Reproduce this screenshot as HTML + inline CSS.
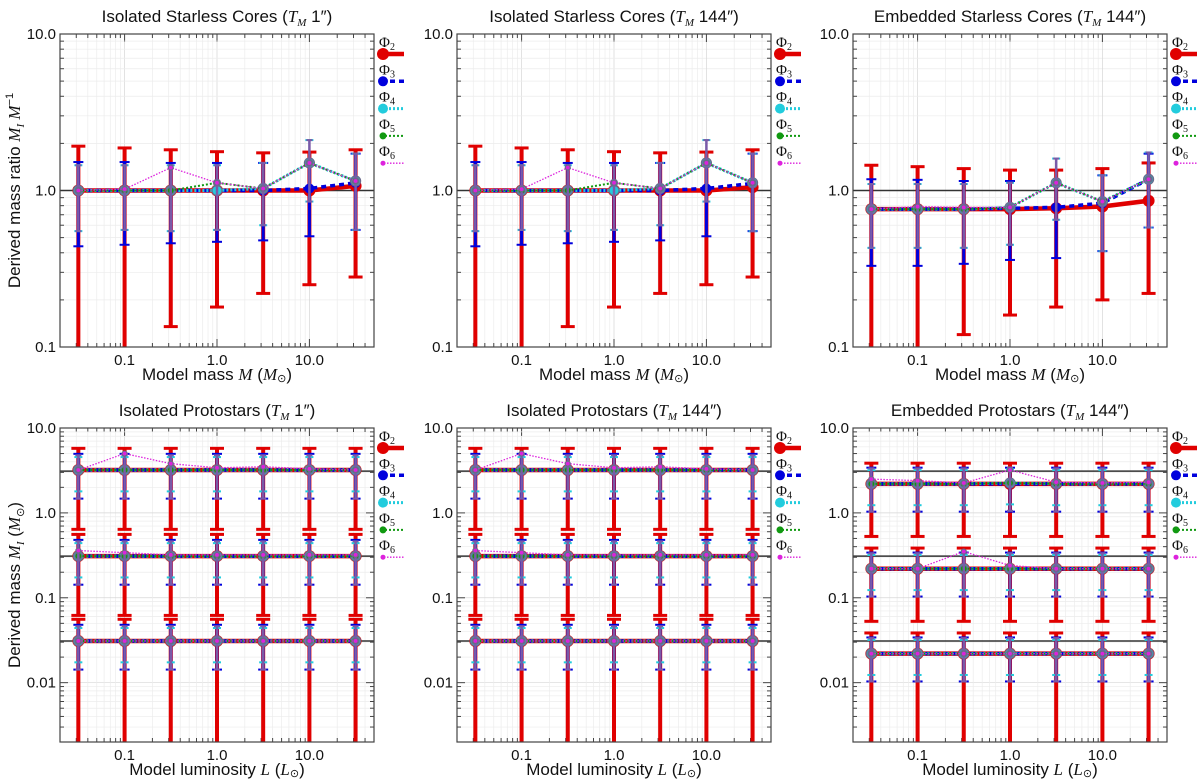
<!DOCTYPE html>
<html><head><meta charset="utf-8"><style>
html,body{margin:0;padding:0;background:#fff;overflow:hidden}
svg{display:block;font-family:"Liberation Sans",sans-serif}
</style></head><body>
<svg id="fig" width="1200" height="784" viewBox="0 0 1200 784" xmlns="http://www.w3.org/2000/svg"></svg>
<script>
// ---------- data ----------
const xVals = [0.0316, 0.1, 0.316, 1, 3.16, 10, 31.6];
const xTickVals = [0.1, 1, 10];
const xTickLabels = ["0.1", "1.0", "10.0"];
const topYTicks = [0.1, 1, 10];
const topYTickLabels = ["0.1", "1.0", "10.0"];
const botYTicks = [0.01, 0.1, 1, 10];
const botYTickLabels = ["0.01", "0.1", "1.0", "10.0"];
const seriesNames = ["2", "3", "4", "5", "6"];

// top-left: isolated starless cores TM 1"
const tlRed = [1, 1, 1, 1, 1, 1.0, 1.07];
const tlBlue = [1, 1, 1, 1, 1, 1.03, 1.12];
const tlCyan = [1, 1, 1, 1, 1.03, 1.5, 1.15];
const tlGreen = [1, 1, 1, 1.12, 1.03, 1.5, 1.15];
const tlMag = [1, 1.02, 1.4, 1.12, 1.03, 1.5, 1.15];
const tlRedHi = [1.92, 1.87, 1.82, 1.77, 1.74, 1.76, 1.82];
const tlRedLo = [0.05, 0.05, 0.135, 0.18, 0.22, 0.25, 0.28];
const tlBlueHi = [1.52, 1.52, 1.5, 1.5, 1.5, 1.5, 1.72];
const tlBlueLo = [0.44, 0.45, 0.46, 0.47, 0.48, 0.51, 0.56];
const tlCyanHi = [1.45, 1.45, 1.45, 1.45, 1.5, 2.1, 1.72];
const tlCyanLo = [0.55, 0.56, 0.55, 0.56, 0.6, 0.85, 0.56];

// top-middle: isolated starless cores TM 144"
const tmRed = [1, 1, 1, 1, 1, 1.0, 1.05];
const tmBlue = [1, 1, 1, 1, 1, 1.03, 1.11];
const tmCyan = [1, 1, 1, 1, 1.03, 1.5, 1.12];
const tmGreen = [1, 1, 1, 1.12, 1.03, 1.5, 1.12];
const tmMag = [1, 1.02, 1.4, 1.12, 1.03, 1.5, 1.12];
const tmRedHi = [1.92, 1.87, 1.82, 1.77, 1.74, 1.76, 1.82];
const tmRedLo = [0.05, 0.05, 0.135, 0.18, 0.22, 0.25, 0.28];
const tmBlueHi = [1.52, 1.52, 1.5, 1.5, 1.5, 1.5, 1.72];
const tmBlueLo = [0.44, 0.45, 0.46, 0.47, 0.48, 0.51, 0.55];
const tmCyanHi = [1.45, 1.45, 1.45, 1.45, 1.5, 2.1, 1.72];
const tmCyanLo = [0.55, 0.56, 0.55, 0.56, 0.6, 0.85, 0.55];

// top-right: embedded starless cores TM 144"
const trRed = [0.76, 0.76, 0.76, 0.76, 0.77, 0.79, 0.86];
const trBlue = [0.76, 0.76, 0.76, 0.77, 0.78, 0.83, 1.18];
const trCyan = [0.76, 0.76, 0.76, 0.78, 1.12, 0.85, 1.18];
const trGreen = [0.76, 0.76, 0.76, 0.78, 1.12, 0.85, 1.18];
const trMag = [0.76, 0.79, 0.78, 0.78, 1.12, 0.85, 1.18];
const trRedHi = [1.45, 1.42, 1.38, 1.35, 1.35, 1.38, 1.5];
const trRedLo = [0.05, 0.05, 0.12, 0.16, 0.18, 0.2, 0.22];
const trBlueHi = [1.18, 1.17, 1.15, 1.15, 1.12, 1.25, 1.72];
const trBlueLo = [0.33, 0.33, 0.34, 0.36, 0.37, 0.41, 0.58];
const trCyanHi = [1.1, 1.1, 1.1, 1.12, 1.6, 1.25, 1.75];
const trCyanLo = [0.43, 0.43, 0.43, 0.45, 0.65, 0.41, 0.58];

// bottom panels: rows are model-mass levels (3, 0.3, 0.03 Msun)
const blRefs = [3.1, 0.31, 0.031];
const blRed = [[3.2,3.2,3.2,3.2,3.2,3.2,3.2],[0.31,0.31,0.31,0.31,0.31,0.31,0.31],[0.031,0.031,0.031,0.031,0.031,0.031,0.031]];
const blCyan = [[3.2,3.2,3.2,3.2,3.2,3.2,3.2],[0.31,0.31,0.31,0.31,0.31,0.31,0.31],[0.031,0.031,0.031,0.031,0.031,0.031,0.031]];
const blMag = [[3.2,5.0,3.8,3.4,3.5,3.3,3.2],[0.36,0.34,0.32,0.32,0.32,0.32,0.32],[0.031,0.031,0.031,0.031,0.031,0.031,0.031]];
const blHiF = [1.8, 1.55, 1.42];
const blLoF = [0.2, 0.46, 0.56];
const blRedLoLast = 0.001;

const bmRefs = [3.1, 0.31, 0.031];
const bmRed = [[3.2,3.2,3.2,3.2,3.2,3.2,3.2],[0.31,0.31,0.31,0.31,0.31,0.31,0.31],[0.031,0.031,0.031,0.031,0.031,0.031,0.031]];
const bmCyan = [[3.2,3.2,3.2,3.2,3.2,3.2,3.2],[0.31,0.31,0.31,0.31,0.31,0.31,0.31],[0.031,0.031,0.031,0.031,0.031,0.031,0.031]];
const bmMag = [[3.2,5.0,3.8,3.4,3.5,3.3,3.2],[0.36,0.34,0.32,0.32,0.32,0.32,0.32],[0.031,0.031,0.031,0.031,0.031,0.031,0.031]];
const bmHiF = [1.8, 1.55, 1.42];
const bmLoF = [0.2, 0.46, 0.56];

const brRefs = [3.1, 0.31, 0.031];
const brRed = [[2.2,2.2,2.2,2.2,2.2,2.2,2.2],[0.22,0.22,0.22,0.22,0.22,0.22,0.22],[0.022,0.022,0.022,0.022,0.022,0.022,0.022]];
const brCyan = [[2.2,2.2,2.2,2.25,2.2,2.2,2.2],[0.22,0.22,0.22,0.22,0.22,0.22,0.22],[0.022,0.022,0.022,0.022,0.022,0.022,0.022]];
const brMag = [[2.5,2.4,2.25,3.2,2.3,2.25,2.3],[0.22,0.22,0.35,0.24,0.22,0.22,0.22],[0.022,0.022,0.022,0.022,0.022,0.022,0.022]];
const brHiF = [1.75, 1.55, 1.45];
const brLoF = [0.24, 0.47, 0.56];

// ---------- drawing ----------
const NS = "http://www.w3.org/2000/svg";
const svg = document.getElementById("fig");
function mk(tag, attrs, parent) {
  const e = document.createElementNS(NS, tag);
  for (const k in attrs) e.setAttribute(k, attrs[k]);
  (parent || svg).appendChild(e);
  return e;
}
const styles = [
  {c: "#e00000", w: 4.5, dash: "", r: 6, ew: 4, cap: 7},
  {c: "#0000dd", w: 3.5, dash: "5,4", r: 5, ew: 3, cap: 5},
  {c: "#22ccdd", w: 3, dash: "2,2", r: 5, ew: 2, cap: 4},
  {c: "#119911", w: 2, dash: "2,2", r: 3.5, ew: 2, cap: 3},
  {c: "#dd22dd", w: 1.3, dash: "1.5,1.5", r: 2.5, ew: 2.5, cap: 3}
];

function drawPanel(p) {
  const g = mk("g", {});
  
  
  const lx0 = Math.log10(0.02), lx1 = Math.log10(50);
  const ly0 = Math.log10(p.ymin), ly1 = Math.log10(p.ymax);
  const X = v => p.x0 + (Math.log10(v) - lx0) / (lx1 - lx0) * p.w;
  const Y = v => p.y0 + p.h - (Math.log10(v) - ly0) / (ly1 - ly0) * p.h;
  const clampY = y => Math.max(p.y0, Math.min(p.y0 + p.h, y));
  const clipId = "clip-" + p.name;
  const cp = mk("clipPath", {id: clipId}, g);
  mk("rect", {x: p.x0, y: p.y0, width: p.w, height: p.h}, cp);
  const grid = mk("g", {}, g);
  
  
  for (let d = -3; d <= 1; d++) for (let m = 1; m <= 9; m++) {
    const v = m * Math.pow(10, d);
    if (v > p.xmin && v < 50) { const x = X(v); mk("line", {x1: x, x2: x, y1: p.y0, y2: p.y0 + p.h, stroke: m === 1 ? "#d6d6d6" : "#ececec", "stroke-width": 0.7}, grid);
      mk("line", {x1: x, x2: x, y1: p.y0 + p.h, y2: p.y0 + p.h - (m === 1 ? 8 : 4), stroke: "#444", "stroke-width": 1}, grid);
      mk("line", {x1: x, x2: x, y1: p.y0, y2: p.y0 + (m === 1 ? 8 : 4), stroke: "#444", "stroke-width": 1}, grid); }
    if (v > p.ymin && v < p.ymax) { const y = Y(v); mk("line", {x1: p.x0, x2: p.x0 + p.w, y1: y, y2: y, stroke: m === 1 ? "#d6d6d6" : "#ececec", "stroke-width": 0.7}, grid);
      mk("line", {x1: p.x0, x2: p.x0 + (m === 1 ? 8 : 4), y1: y, y2: y, stroke: "#444", "stroke-width": 1}, grid);
      mk("line", {x1: p.x0 + p.w, x2: p.x0 + p.w - (m === 1 ? 8 : 4), y1: y, y2: y, stroke: "#444", "stroke-width": 1}, grid); }
  }
  p.refs.forEach(r => {
    const l = mk("line", {x1: p.x0, x2: p.x0 + p.w, y1: Y(r), y2: Y(r), stroke: "#333", "stroke-width": 1.5}, g);
    
    
  });
  const data = mk("g", {"clip-path": "url(#" + clipId + ")"}, g);
  p.series.forEach((s, si) => {
    const st = styles[si];
    const sg = mk("g", {}, data);
    
    
    s.levels.forEach((vals, li) => {
      if (s.hi) vals.forEach((v, i) => {
        const x = X(xVals[i]);
        const yhRaw = Y(s.hi[li][i]), ylRaw = Y(s.lo[li][i]);
        const yh = clampY(yhRaw), yl = clampY(ylRaw);
        const eb = mk("g", {}, sg);
        
        
        const ec = si === 4 ? "#7a5aa8" : st.c;
        mk("line", {x1: x, x2: x, y1: yh, y2: yl, stroke: ec, "stroke-width": st.ew}, eb);
        if (yhRaw >= p.y0) mk("line", {x1: x - st.cap, x2: x + st.cap, y1: yh, y2: yh, stroke: ec, "stroke-width": si === 0 ? 3 : 2}, eb);
        if (ylRaw <= p.y0 + p.h) mk("line", {x1: x - st.cap, x2: x + st.cap, y1: yl, y2: yl, stroke: ec, "stroke-width": si === 0 ? 3 : 2}, eb);
      });
      const pts = vals.map((v, i) => X(xVals[i]) + "," + Y(v)).join(" ");
      const pl = mk("polyline", {points: pts, fill: "none", stroke: st.c, "stroke-width": st.w, "stroke-dasharray": st.dash}, sg);
      
      
      vals.forEach((v, i) => {
        const c = mk("circle", {cx: X(xVals[i]), cy: Y(v), r: st.r, fill: st.c, stroke: si >= 2 ? "#6a6a8a" : "none", "stroke-width": 1.2}, sg);
        
        
      });
    });
  });
  mk("rect", {x: p.x0, y: p.y0, width: p.w, height: p.h, fill: "none", stroke: "#444", "stroke-width": 1.2}, g);
  xTickVals.forEach((v, i) => {
    const t = mk("text", {x: X(v), y: p.y0 + p.h + 18, "text-anchor": "middle", "font-size": 15, fill: "#111"}, g);
    t.textContent = xTickLabels[i];
    
    
  });
  p.yticks.forEach((v, i) => {
    const t = mk("text", {x: p.x0 - 4, y: Y(v) + 5, "text-anchor": "end", "font-size": 15, fill: "#111"}, g);
    t.textContent = p.ylabels[i];
    
    
  });
  const tt = mk("text", {x: p.x0 + p.w / 2, y: p.y0 - 12, "text-anchor": "middle", "font-size": 17, fill: "#111"}, g);
  tt.innerHTML = p.title + ' (<tspan font-family="Liberation Serif" font-style="italic">T</tspan><tspan font-family="Liberation Serif" font-style="italic" font-size="11" dy="4">M</tspan><tspan dy="-4"> ' + p.tm + '″)</tspan>';
  
  
  const xl = mk("text", {x: p.x0 + p.w / 2, y: p.y0 + p.h + 33, "text-anchor": "middle", "font-size": 17, fill: "#111"}, g);
  xl.innerHTML = p.xlab;
  
  
  if (p.ylab) {
    const yl = mk("text", {x: 0, y: 0, transform: "translate(20," + (p.y0 + p.h / 2) + ") rotate(-90)", "text-anchor": "middle", "font-size": 17, fill: "#111"}, g);
    yl.innerHTML = p.ylab;
    
    
  }
  const lg = mk("g", {}, g);
  
  
  seriesNames.forEach((n, i) => {
    const st = styles[i];
    const ly = p.y0 + 9 + i * 27.3;
    const e = mk("g", {}, lg);
    
    
    const t = mk("text", {x: p.x0 + p.w + 5, y: ly + 4, "font-size": 15, "font-family": "Liberation Serif", fill: "#111"}, e);
    t.innerHTML = 'Φ<tspan font-size="10" dy="3">' + n + '</tspan>';
    mk("line", {x1: p.x0 + p.w + 7, x2: p.x0 + p.w + 30, y1: ly + 11, y2: ly + 11, stroke: st.c, "stroke-width": st.w, "stroke-dasharray": st.dash}, e);
    mk("circle", {cx: p.x0 + p.w + 9, cy: ly + 11, r: st.r, fill: st.c}, e);
  });
}

function topSeries(r, b, c, gr, m, rh, rl, bh, bl, ch, cl) {
  return [
    {levels: [r], hi: [rh], lo: [rl]},
    {levels: [b], hi: [bh], lo: [bl]},
    {levels: [c], hi: [ch], lo: [cl]},
    {levels: [gr]},
    {levels: [m], hi: [ch], lo: [cl]}
  ];
}
function botSeries(red, cyan, mag, hiF, loF, redLoLast) {
  const mul = (lv, f) => lv.map(a => a.map(v => v * f));
  const redLo = red.map((a, li) => a.map(v => v * (li === 2 ? redLoLast : loF[0])));
  return [
    {levels: red, hi: mul(red, hiF[0]), lo: redLo},
    {levels: red, hi: mul(red, hiF[1]), lo: mul(red, loF[1])},
    {levels: cyan, hi: mul(cyan, hiF[2]), lo: mul(cyan, loF[2])},
    {levels: cyan},
    {levels: mag, hi: mul(cyan, hiF[2] * 1.05), lo: mul(cyan, loF[1])}
  ];
}
const massLab = 'Model mass <tspan font-family="Liberation Serif" font-style="italic">M</tspan> (<tspan font-family="Liberation Serif" font-style="italic">M</tspan><tspan font-size="11" dy="2">⊙</tspan><tspan dy="-2">)</tspan>';
const lumLab = 'Model luminosity <tspan font-family="Liberation Serif" font-style="italic">L</tspan> (<tspan font-family="Liberation Serif" font-style="italic">L</tspan><tspan font-size="11" dy="2">⊙</tspan><tspan dy="-2">)</tspan>';
const cols = [60, 457, 853];
const W = 314;
const topCommon = {y0: 34, h: 313, w: W, ymin: 0.1, ymax: 10, xmin: 0.02, yticks: topYTicks, ylabels: topYTickLabels, refs: [1], xlab: massLab};
const botCommon = {y0: 428, h: 314, w: W, ymin: 0.002, ymax: 10, xmin: 0.02, yticks: botYTicks, ylabels: botYTickLabels, xlab: lumLab};

drawPanel(Object.assign({}, topCommon, {name: "panel-isolated-starless-1", x0: cols[0], title: "Isolated Starless Cores", tm: "1",
  ylab: 'Derived mass ratio <tspan font-family="Liberation Serif" font-style="italic">M</tspan><tspan font-family="Liberation Serif" font-style="italic" font-size="11" dy="4">I</tspan><tspan font-family="Liberation Serif" font-style="italic" dy="-4"> M</tspan><tspan font-size="11" dy="-7">−1</tspan>',
  series: topSeries(tlRed, tlBlue, tlCyan, tlGreen, tlMag, tlRedHi, tlRedLo, tlBlueHi, tlBlueLo, tlCyanHi, tlCyanLo)}));
drawPanel(Object.assign({}, topCommon, {name: "panel-isolated-starless-144", x0: cols[1], title: "Isolated Starless Cores", tm: "144",
  series: topSeries(tmRed, tmBlue, tmCyan, tmGreen, tmMag, tmRedHi, tmRedLo, tmBlueHi, tmBlueLo, tmCyanHi, tmCyanLo)}));
drawPanel(Object.assign({}, topCommon, {name: "panel-embedded-starless-144", x0: cols[2], title: "Embedded Starless Cores", tm: "144",
  series: topSeries(trRed, trBlue, trCyan, trGreen, trMag, trRedHi, trRedLo, trBlueHi, trBlueLo, trCyanHi, trCyanLo)}));
drawPanel(Object.assign({}, botCommon, {name: "panel-isolated-protostars-1", x0: cols[0], title: "Isolated Protostars", tm: "1", refs: blRefs,
  ylab: 'Derived mass <tspan font-family="Liberation Serif" font-style="italic">M</tspan><tspan font-family="Liberation Serif" font-style="italic" font-size="11" dy="4">I</tspan><tspan dy="-4"> (</tspan><tspan font-family="Liberation Serif" font-style="italic">M</tspan><tspan font-size="11" dy="4">⊙</tspan><tspan dy="-4">)</tspan>',
  series: botSeries(blRed, blCyan, blMag, blHiF, blLoF, blRedLoLast)}));
drawPanel(Object.assign({}, botCommon, {name: "panel-isolated-protostars-144", x0: cols[1], title: "Isolated Protostars", tm: "144", refs: bmRefs,
  series: botSeries(bmRed, bmCyan, bmMag, bmHiF, bmLoF, blRedLoLast)}));
drawPanel(Object.assign({}, botCommon, {name: "panel-embedded-protostars-144", x0: cols[2], title: "Embedded Protostars", tm: "144", refs: brRefs,
  series: botSeries(brRed, brCyan, brMag, brHiF, brLoF, blRedLoLast)}));
</script>
</body></html>
